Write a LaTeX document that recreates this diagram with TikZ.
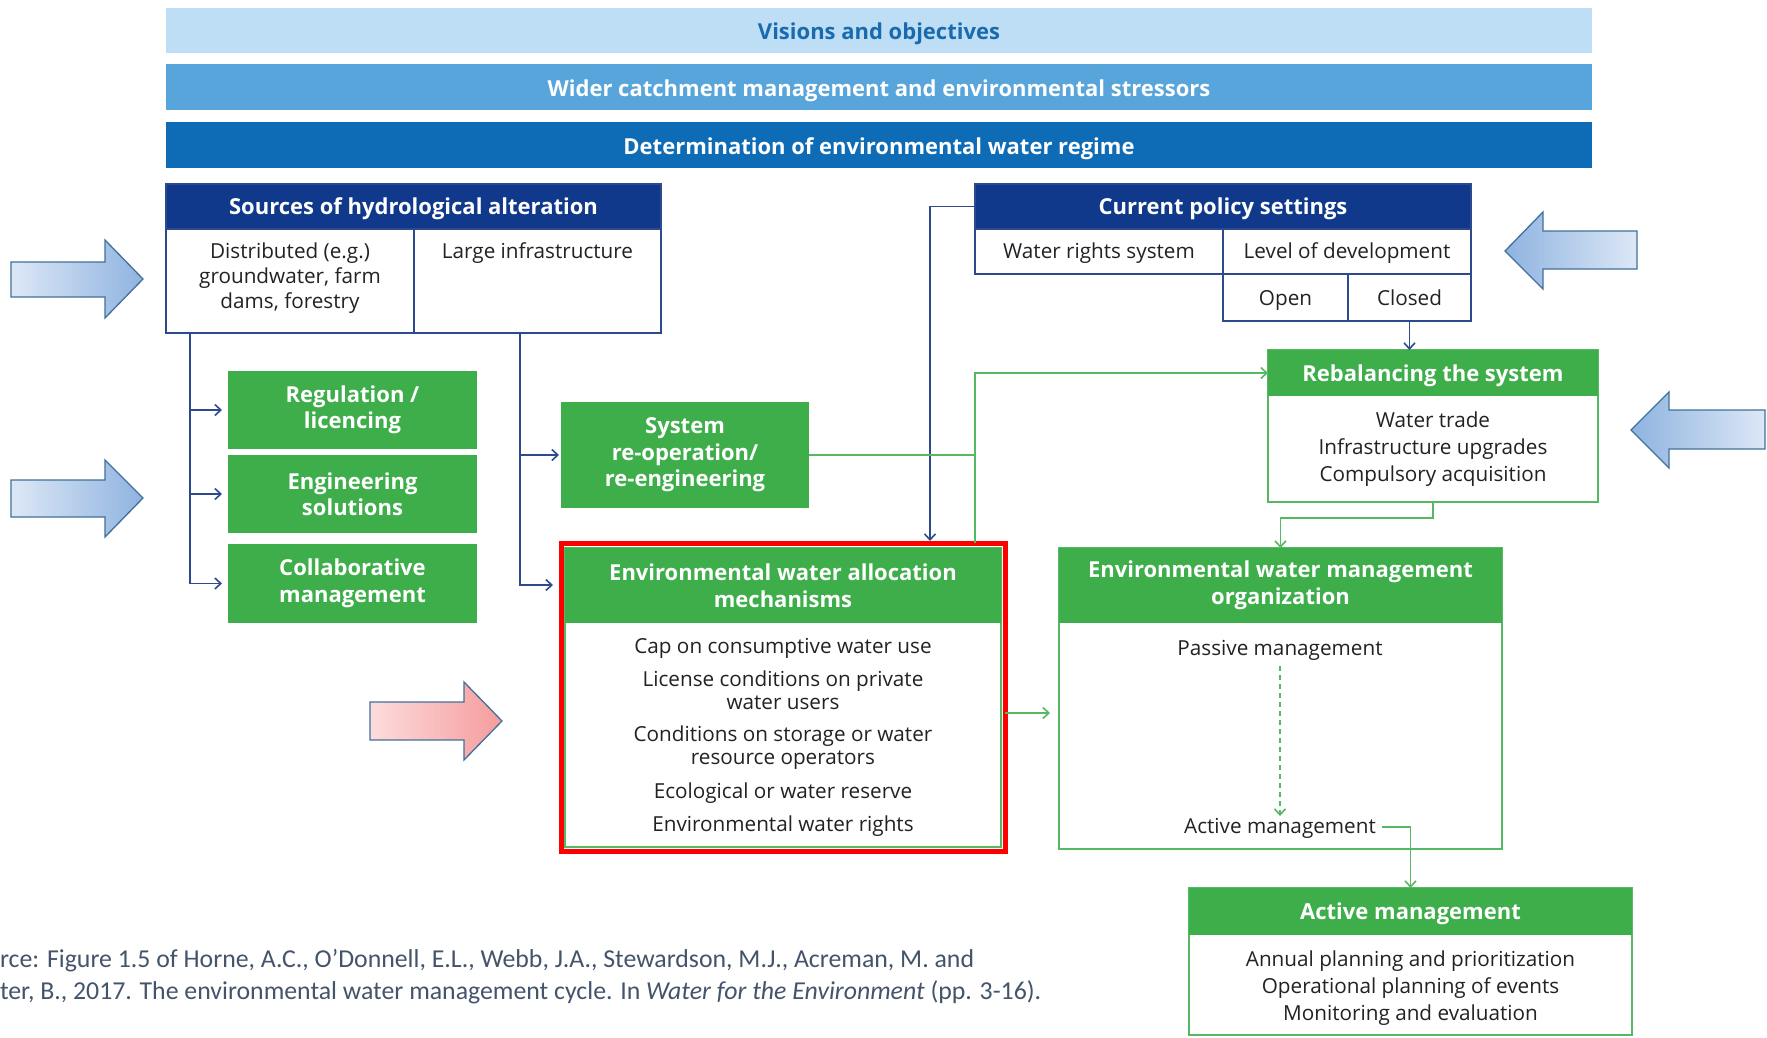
\documentclass[tikz,border=0pt]{standalone}
\usepackage{fontspec}
\setmainfont{Open Sans}
\newfontfamily\capfont{Carlito}
\usetikzlibrary{arrows.meta,fit}
\definecolor{barA}{HTML}{BEDEF5}
\definecolor{barAtext}{HTML}{1A6AAE}
\definecolor{barB}{HTML}{58A5DC}
\definecolor{barC}{HTML}{0E6CB6}
\definecolor{navy}{HTML}{10398C}
\definecolor{navyline}{HTML}{2E4A8E}
\definecolor{grn}{HTML}{3DAE4A}
\definecolor{grnline}{HTML}{55B862}
\definecolor{arrowline}{HTML}{41719C}
\definecolor{captxt}{HTML}{44546A}
\definecolor{txt}{HTML}{222222}
\definecolor{baL}{HTML}{DDE8F6}
\definecolor{baD}{HTML}{8FB3E0}
\definecolor{raL}{HTML}{FDDCDC}
\definecolor{raD}{HTML}{F59C9C}
\newcommand\myhfs{\fontsize{22}{27}\selectfont}
\newcommand\mybfs{\fontsize{20.7}{25}\selectfont}
\begin{document}
\begin{tikzpicture}[x=1pt,y=-1pt,
  every node/.style={inner sep=0pt, outer sep=0pt},
  frame/.style={rectangle, inner sep=0pt, outer sep=0pt},
  navybox/.style={frame, draw=navyline, line width=1.8pt},
  navyhead/.style={frame, fill=navy, draw=navyline, line width=1.8pt},
  gfill/.style={frame, fill=grn},
  gbox/.style={frame, draw=grnline, line width=1.8pt},
  htxt/.style={text=white, font=\myhfs\bfseries, align=center},
  btxt/.style={text=txt, font=\mybfs, align=center},
  one/.style={text height=15pt, text depth=5pt},
  hone/.style={one, yshift=-3pt},
  bone/.style={one, yshift=-2pt},
  bartxt/.style={font=\myhfs\bfseries, align=center, one, yshift=-4.5pt},
  bconn/.style={draw=navyline, line width=1.6pt, -{Straight Barb[length=6pt,width=11pt]}},
  gline/.style={draw=grnline, line width=1.6pt},
  gconn/.style={gline, -{Straight Barb[length=6pt,width=11pt]}},
  blockarrow/.style={draw=arrowline, line width=1.3pt},
]
\useasboundingbox (0,0) rectangle (1767,1038);
\fill[white] (0,0) rectangle (1767,1038);

% top bars
\node[frame, fill=barA, fit={(166,8)(1592,53)}] (vis) {};
\node[bartxt, text=barAtext] (visT) at (vis.center) {Visions and objectives};
\node[frame, fill=barB, fit={(166,64)(1592,110)}] (wid) {};
\node[bartxt, text=white] (widT) at (wid.center) {Wider catchment management and environmental stressors};
\node[frame, fill=barC, fit={(166,122)(1592,168)}] (det) {};
\node[bartxt, text=white] (detT) at (det.center) {Determination of environmental water regime};

% sources of hydrological alteration
\node[navybox, fit={(166,184)(661,333)}] (src) {};
\node[navyhead, fit={(166,184)(661,229)}] (srch) {};
\node[htxt, hone] (srchT) at (srch.center) {Sources of hydrological alteration};
\draw[navyline, line width=1.8pt] (srch.south -| 414,0) -- (src.south -| 414,0);
\node[btxt, font=\fontsize{20.7}{25}\selectfont] (dist) at (290,278.5) {Distributed (e.g.)\\groundwater, farm\\dams, forestry};
\node[btxt, bone] (large) at (537.5,251) {Large infrastructure};

% current policy settings
\node[navyhead, fit={(975,184)(1471,229)}] (polh) {};
\node[htxt, hone] (polhT) at (polh.center) {Current policy settings};
\node[navybox, fit={(975,229)(1223,274)}] (wrs) {};
\node[navybox, fit={(1223,229)(1471,274)}] (lod) {};
\node[navybox, fit={(1223,274)(1348,321)}] (open) {};
\node[navybox, fit={(1348,274)(1471,321)}] (closed) {};
\node[btxt, bone] (wrsT) at (wrs.center) {Water rights system};
\node[btxt, bone] (lodT) at (lod.center) {Level of development};
\node[btxt, hone] (openT) at (open.center) {Open};
\node[btxt, hone] (closedT) at (closed.center) {Closed};

% green action boxes
\node[gfill, fit={(228,371)(477,449)}] (reg) {};
\node[htxt, font=\fontsize{22}{26}\selectfont\bfseries] (regT) at (reg.center) {Regulation /\\licencing};
\node[gfill, fit={(228,455)(477,533)}] (eng) {};
\node[htxt, font=\fontsize{22}{26}\selectfont\bfseries] (engT) at (eng.center) {Engineering\\solutions};
\node[gfill, fit={(228,544)(477,623)}] (col) {};
\node[htxt, font=\fontsize{22}{27}\selectfont\bfseries] (colT) at (col.center) {Collaborative\\management};
\node[gfill, fit={(561,402)(809,508)}] (sys) {};
\node[htxt, font=\fontsize{22}{26.5}\selectfont\bfseries] (sysT) at (sys.center) {System\\re-operation/\\re-engineering};

% rebalancing
\node[gbox, fit={(1268,350)(1598,502)}] (reb) {};
\node[gfill, fit={(1268,350)(1598,396)}] (rebh) {};
\node[htxt, hone] (rebhT) at (rebh.center) {Rebalancing the system};
\node[btxt, font=\fontsize{20.7}{27}\selectfont] (rebT) at (1433,449) {Water trade\\Infrastructure upgrades\\Compulsory acquisition};

% environmental water allocation mechanisms
\node[gbox, fit={(565,548)(1001,847)}] (eaa) {};
\node[gfill, fit={(565,548)(1001,623)}] (eaah) {};
\node[htxt] (eaahT) at (eaah.center) {Environmental water allocation\\mechanisms};
\node[frame, draw=red, line width=5pt, fit={(561,543)(1005,851)}] (redf) {};
\node[btxt, one] (e1) at (783,648.5) {Cap on consumptive water use};
\node[btxt, font=\fontsize{20.7}{23}\selectfont] (e2) at (783,690) {License conditions on private\\water users};
\node[btxt, font=\fontsize{20.7}{23}\selectfont] (e3) at (783,748) {Conditions on storage or water\\resource operators};
\node[btxt, one] (e4) at (783,793.5) {Ecological or water reserve};
\node[btxt, one] (e5) at (783,826.5) {Environmental water rights};

% environmental water management organization
\node[gbox, fit={(1059,548)(1502,849)}] (org) {};
\node[gfill, fit={(1059,548)(1502,623)}] (orgh) {};
\node[htxt] (orghT) at (orgh.center) {Environmental water management\\organization};
\node[btxt, bone] (pass) at (1280,648) {Passive management};
\node[btxt, bone] (act) at (1280,826) {Active management};

% active management
\node[gbox, fit={(1189,888)(1632,1035)}] (am) {};
\node[gfill, fit={(1189,888)(1632,935)}] (amh) {};
\node[htxt, hone] (amhT) at (amh.center) {Active management};
\node[btxt, font=\fontsize{20.7}{27}\selectfont] (amT) at (1410.5,988) {Annual planning and prioritization\\Operational planning of events\\Monitoring and evaluation};

% blue connectors
\coordinate (s1) at (190,333);
\coordinate (s2) at (520,333);
\draw[navyline, line width=1.6pt] (s1) -- (190,583);
\draw[bconn, shorten >=6pt] (s1) |- (reg.west);
\draw[bconn, shorten >=6pt] (s1) |- (eng.west);
\draw[bconn, shorten >=6pt] (s1) |- (col.west);
\draw[navyline, line width=1.6pt] (s2) -- (520,585);
\draw[bconn, shorten >=2pt] (s2) |- (sys.west);
\coordinate (eaaL) at (561,585);
\draw[bconn, shorten >=8pt] (s2) |- (eaaL);
\coordinate (polIn) at (930,541);
\draw[bconn] (polh.west) -| (polIn);
\draw[bconn] (closed.south) -- (closed.south |- reb.north);

% green connectors
\coordinate (g1) at (975,543);
\draw[gconn] (g1) |- (rebh.west);
\draw[gline] (sys.east) -- (sys.east -| g1);
\draw[gconn] (reb.south) -- ++(0,16) -| (org.north);
\coordinate (g2) at (1005,713);
\draw[gconn, shorten >=9pt] (g2) -- (g2 -| org.west);
\draw[gconn, dashed, dash pattern=on 5pt off 4pt, shorten <=6pt, shorten >=2pt] (pass.south) -- (act.north);
\draw[gconn, shorten <=6pt] ([yshift=1pt]act.east) -| (am.north);

% block arrows
\shadedraw[blockarrow, left color=baL, right color=baD] (11,262) -- (105,262) -- (105,240) -- (143,279) -- (105,318) -- (105,297) -- (11,297) -- cycle;
\shadedraw[blockarrow, left color=baL, right color=baD] (11,480) -- (105,480) -- (105,460) -- (143,498) -- (105,537) -- (105,517) -- (11,517) -- cycle;
\shadedraw[blockarrow, left color=baD, right color=baL] (1637,231) -- (1543,231) -- (1543,212) -- (1505,251) -- (1543,289) -- (1543,269) -- (1637,269) -- cycle;
\shadedraw[blockarrow, left color=baD, right color=baL] (1765,410) -- (1669,410) -- (1669,392) -- (1631,430) -- (1669,468) -- (1669,449) -- (1765,449) -- cycle;
\shadedraw[blockarrow, left color=raL, right color=raD] (370,702) -- (464,702) -- (464,682) -- (502,721) -- (464,760) -- (464,740) -- (370,740) -- cycle;

% caption
\node[anchor=base west, text=captxt, font=\capfont\fontsize{25.8}{32}\selectfont] (cap1) at (0,967) {rce: Figure 1.5 of Horne, A.C., O’Donnell, E.L., Webb, J.A., Stewardson, M.J., Acreman, M. and};
\node[anchor=base west, text=captxt, font=\capfont\fontsize{25.8}{32}\selectfont] (cap2) at (0,999) {ter, B., 2017. The environmental water management cycle. In \textit{Water for the Environment} (pp. 3-16).};
\end{tikzpicture}
\end{document}
